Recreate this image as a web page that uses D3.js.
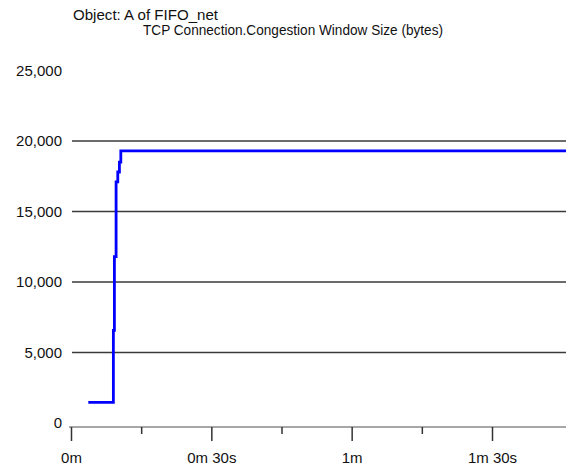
<!DOCTYPE html>
<html>
<head>
<meta charset="utf-8">
<script src="https://cdn.jsdelivr.net/npm/d3@7"></script>
<style>
  body { margin: 0; background: #fff; }
  svg { display: block; font-family: "Liberation Sans", Arial, sans-serif; }
  .tick text { font-size: 15px; fill: #111; }
</style>
</head>
<body>
<div class="visHolder"></div>
<script>
const width = 566,
  height = 466;

// congestion window trace, time in seconds
const timeSec = [3.7, 9.06, 9.28, 9.64, 10.0, 10.35, 10.65, 106.5];
const cwnd = [1460, 6570, 11800, 17100, 17800, 18500, 19300, 19300];

const yTicks = [0, 5000, 10000, 15000, 20000, 25000];
const gridValues = [5000, 10000, 15000, 20000];
const xMajor = [0, 30, 60, 90];
const xMajorLabels = ["0m", "0m 30s", "1m", "1m 30s"];
const xMinor = [15, 45, 75];
const titleLines = [
  "Object: A of FIFO_net",
  "TCP Connection.Congestion Window Size (bytes)",
];

const svg = d3
  .select(".visHolder")
  .append("svg")
  .attr("width", width)
  .attr("height", height);

svg.append("rect").attr("width", width).attr("height", height).attr("fill", "#fff");

const xScale = d3.scaleLinear().domain([0, 90]).range([71, 492]);
const yScale = d3.scaleLinear().domain([0, 25000]).range([423, 70.5]);

// titles
svg
  .append("text")
  .attr("x", 73)
  .attr("y", 20)
  .attr("textLength", 145)
  .attr("lengthAdjust", "spacingAndGlyphs")
  .style("font-size", "15px")
  .style("fill", "#111")
  .text(titleLines[0]);

svg
  .append("text")
  .attr("x", 143)
  .attr("y", 35)
  .attr("textLength", 300)
  .attr("lengthAdjust", "spacingAndGlyphs")
  .style("font-size", "15px")
  .style("fill", "#111")
  .text(titleLines[1]);

// horizontal grid
svg
  .selectAll(".grid")
  .data(gridValues)
  .enter()
  .append("line")
  .attr("class", "grid")
  .attr("x1", 72)
  .attr("x2", width)
  .attr("y1", (d) => yScale(d))
  .attr("y2", (d) => yScale(d))
  .style("stroke", "#3a3a3a")
  .style("stroke-width", 1.4);

// y axis labels
const yAxis = d3
  .axisLeft(yScale)
  .tickValues(yTicks)
  .tickSize(0)
  .tickPadding(10)
  .tickFormat(d3.format(","));

svg
  .append("g")
  .attr("id", "y-axis")
  .attr("transform", "translate(72,0)")
  .call(yAxis)
  .call((g) => g.select(".domain").remove());

// x axis
const axisY = 427;

svg
  .append("line")
  .attr("x1", 69)
  .attr("x2", width)
  .attr("y1", axisY)
  .attr("y2", axisY)
  .style("stroke", "#8a8a8a")
  .style("stroke-width", 1.5);

const xAxis = d3
  .axisBottom(xScale)
  .tickValues(xMajor)
  .tickSize(14)
  .tickPadding(11)
  .tickFormat((d, i) => xMajorLabels[i]);

svg
  .append("g")
  .attr("id", "x-axis")
  .attr("transform", "translate(0," + axisY + ")")
  .call(xAxis)
  .call((g) => g.select(".domain").remove())
  .call((g) => g.selectAll(".tick line").style("stroke", "#333").style("stroke-width", 1.5));

const xMinorAxis = d3
  .axisBottom(xScale)
  .tickValues(xMinor)
  .tickSize(7)
  .tickFormat("");

svg
  .append("g")
  .attr("transform", "translate(0," + axisY + ")")
  .call(xMinorAxis)
  .call((g) => g.select(".domain").remove())
  .call((g) => g.selectAll(".tick line").style("stroke", "#333").style("stroke-width", 1.5));

// the trace
const line = d3
  .line()
  .x((d, i) => xScale(timeSec[i]))
  .y((d) => yScale(d))
  .curve(d3.curveStepAfter);

svg
  .append("path")
  .datum(cwnd)
  .attr("d", line)
  .style("fill", "none")
  .style("stroke", "#0000ff")
  .style("stroke-width", 2.8);
</script>
</body>
</html>
